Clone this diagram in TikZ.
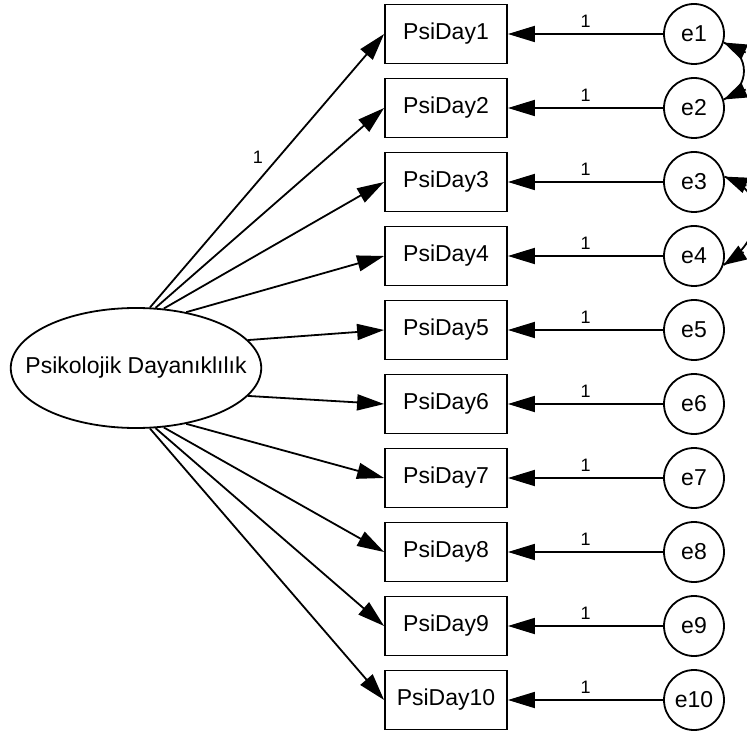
\documentclass[tikz,border=0pt]{standalone}
\usepackage{fontspec}
\setmainfont{Liberation Sans}
\usetikzlibrary{arrows.meta,shapes.geometric,positioning}

\begin{document}
\begin{tikzpicture}[
        x=1pt, y=-1pt,
        node distance = 74pt,
        line width=1.8pt,
        >={Triangle[length=27pt,width=16pt]},
        font=\fontsize{23}{25}\selectfont,
        item/.style={draw=black, rectangle, minimum width=122pt, minimum height=59pt, inner sep=0pt},
        error/.style={draw=black, circle, minimum size=60pt, inner sep=0pt},
        latent/.style={draw=black, ellipse, minimum width=247pt, minimum height=120pt, inner xsep=-22pt, inner ysep=0pt},
        weight/.style={font=\fontsize{18}{20}\selectfont, inner sep=2pt},
        covtip/.style={-{Triangle[length=23pt,width=16pt]}}]

        \clip (0,0) rectangle (747,735);

        % NODES
        % latent
        \node[latent] (latent) at (136,368) {Psikolojik Dayanıklılık};

        % items
        \node[item] (PsiDay1) at (446,34) {PsiDay1};
        \node[item, below of = PsiDay1] (PsiDay2) {PsiDay2};
        \node[item, below of = PsiDay2] (PsiDay3) {PsiDay3};
        \node[item, below of = PsiDay3] (PsiDay4) {PsiDay4};
        \node[item, below of = PsiDay4] (PsiDay5) {PsiDay5};
        \node[item, below of = PsiDay5] (PsiDay6) {PsiDay6};
        \node[item, below of = PsiDay6] (PsiDay7) {PsiDay7};
        \node[item, below of = PsiDay7] (PsiDay8) {PsiDay8};
        \node[item, below of = PsiDay8] (PsiDay9) {PsiDay9};
        \node[item, below of = PsiDay9] (PsiDay10) {PsiDay10};

        % errors
        \foreach \i in {1,...,10}
            \node[error, right of = PsiDay\i, node distance = 248pt] (e\i) {e\i};

        % ARROWS
        % loadings
        \draw[->] (latent.77) -- node[pos=0.55, left=13pt, weight] {1} (PsiDay1.west);
        \foreach \i/\a in {2/72, 3/65, 4/48, 5/14, 6/-14, 7/-48, 8/-65, 9/-72, 10/-77}
            \draw[->] (latent.\a) -- (PsiDay\i.west);

        % errors
        \foreach \i in {1,...,10}
            \draw[->] (e\i) -- node[above=4pt, weight] {1} (PsiDay\i);

        % covariances
        \draw (e1.-16) .. controls +(27,12) and +(27,-12) .. (e2.16);
        \draw[covtip] ([shift={(22,10)}]e1.-16) -- (e1.-16);
        \draw[covtip] ([shift={(22,-10)}]e2.16) -- (e2.16);
        \draw (e3.10) .. controls +(45,15) and +(40,-25) .. (e4.-17);
        \draw[covtip] ([shift={(22,9)}]e3.10) -- (e3.10);
        \draw[covtip] ([shift={(20,-13)}]e4.-17) -- (e4.-17);
\end{tikzpicture}
\end{document}
